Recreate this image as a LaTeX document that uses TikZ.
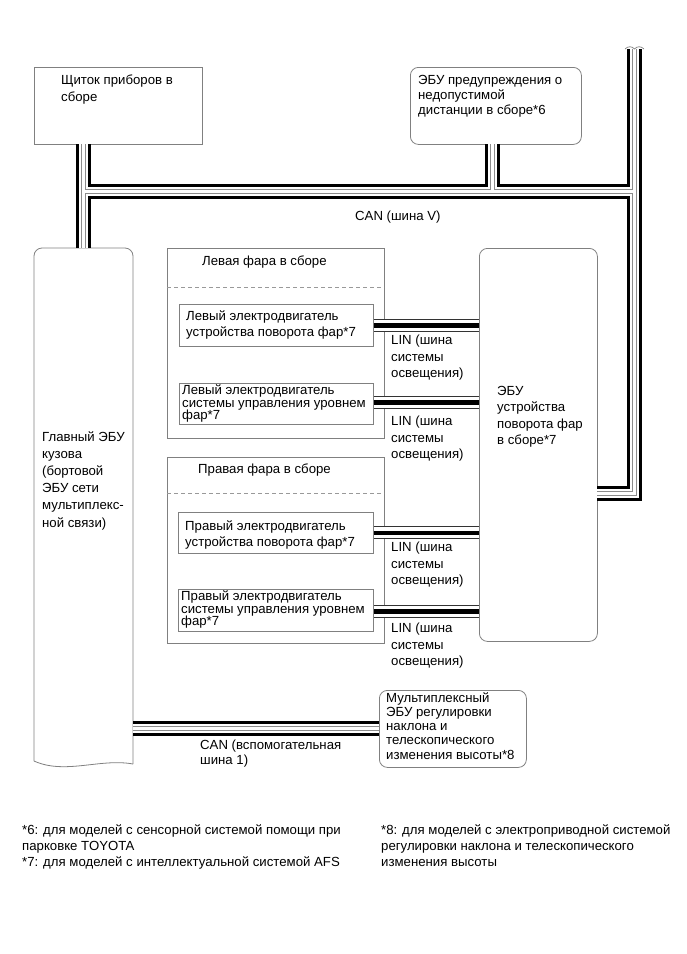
\documentclass[tikz,border=0pt]{standalone}
\usepackage{fontspec}
\setmainfont{Liberation Sans}
\begin{document}
\begin{tikzpicture}[x=1pt,y=-1pt,
  box/.style={draw=black!50, line width=0.8pt, inner sep=0, anchor=north west},
  rbox/.style={box, rounded corners=8pt},
  eculine/.style={draw=black!50, line width=0.8pt},
  dashsep/.style={draw=black!40, line width=0.8pt, dash pattern=on 4pt off 3pt},
  txt/.style={anchor=north west, inner sep=0, align=left, font=\fontsize{13.2}{16.5}\selectfont},
  tight/.style={font=\fontsize{13.2}{12.5}\selectfont},
  mid/.style={font=\fontsize{13.2}{16}\selectfont},
  canwire/.style={line width=15pt, line join=miter,
    postaction={draw=white, line width=9pt},
    postaction={draw=black!45, line width=5pt},
    postaction={draw=white, line width=3pt}},
  linwire/.style={line width=13pt, draw=black!80,
    postaction={draw=white, line width=11pt},
    postaction={draw=black, line width=4.5pt}}
]
\useasboundingbox (0,0) rectangle (687,954);

% boxes
\node[box, minimum width=168pt, minimum height=77pt] (shch) at (34,67) {};
\node[rbox, minimum width=171pt, minimum height=77pt] (warn) at (410,67) {};
\node[box, minimum width=217pt, minimum height=190pt] (lhl) at (167,248) {};
\node[box, minimum width=194pt, minimum height=42pt] (m1) at (179,304) {};
\node[box, minimum width=194pt, minimum height=41pt] (m2) at (179,383) {};
\node[box, minimum width=217pt, minimum height=186pt] (rhl) at (167,457) {};
\node[box, minimum width=195pt, minimum height=41pt] (m3) at (178,512) {};
\node[box, minimum width=195pt, minimum height=42pt] (m4) at (178,589) {};
\node[rbox, minimum width=118pt, minimum height=393pt] (afs) at (479,248) {};
\node[rbox, minimum width=147pt, minimum height=77pt] (mplx) at (379,690) {};

% main body ECU
\draw[eculine, rounded corners=8pt] (34,761) -- (34,248) -- (133,248) -- (133,764);
\draw[eculine] (34,761) .. controls (65,775) and (100,758) .. (133,764);
\coordinate (mainT) at (83.5,248);
\coordinate (mainR) at (133,728);

% dashed separators
\draw[dashsep] (167,287) -- (384,287);
\draw[dashsep] (167,493) -- (384,493);

% bus coordinates
\coordinate (lbT) at (83.5,144);
\coordinate (hL) at (83.5,191.5);
\coordinate (hR) at (634.5,191.5);
\coordinate (brT) at (492,144);
\coordinate (brB) at (492,191.5);
\coordinate (rT) at (634.5,49);
\coordinate (rC) at (634.5,493);
\coordinate (rE) at (597,493);
\coordinate (mplxL) at (379,728);

\draw[canwire] (lbT) -- (mainT) (hL) -- (hR) (brT) -- (brB) (rT) -- (rC) -- (rE) (mainR) -- (mplxL);
\draw[black!50, line width=0.7pt] (625,49) .. controls (628,46) and (632,46) .. (634.5,49) .. controls (637,46) and (641,46) .. (644,49);

\draw[linwire] (m1.east) -- (m1.east -| afs.west);
\draw[linwire] ([yshift=1.5pt]m2.east) -- ([yshift=1.5pt]m2.east -| afs.west);
\draw[linwire] (m3.east) -- (m3.east -| afs.west);
\draw[linwire] ([yshift=-1pt]m4.east) -- ([yshift=-1pt]m4.east -| afs.west);

% texts
\node[txt] (tshch) at (61,75) {Щиток приборов в\\сборе};
\node[txt, font=\fontsize{13.2}{15}\selectfont] (twarn) at (418,75) {ЭБУ предупреждения о\\недопустимой\\дистанции в сборе*6};
\node[txt] (tcanv) at (355,211) {CAN (шина V)};
\node[txt] (tlhl) at (202,256) {Левая фара в сборе};
\node[txt, mid] (tm1) at (186,310) {Левый электродвигатель\\устройства поворота фар*7};
\node[txt] (tlin1) at (391,335) {LIN (шина\\системы\\освещения)};
\node[txt, tight] (tm2) at (182,384.7) {Левый электродвигатель\\системы управления уровнем\\фар*7};
\node[txt] (tlin2) at (391,416) {LIN (шина\\системы\\освещения)};
\node[txt] (trhl) at (198,464) {Правая фара в сборе};
\node[txt, mid] (tm3) at (185,520) {Правый электродвигатель\\устройства поворота фар*7};
\node[txt] (tlin3) at (391,542) {LIN (шина\\системы\\освещения)};
\node[txt, tight] (tm4) at (181,590.7) {Правый электродвигатель\\системы управления уровнем\\фар*7};
\node[txt] (tlin4) at (391,623) {LIN (шина\\системы\\освещения)};
\node[txt] (tafs) at (497,386) {ЭБУ\\устройства\\поворота фар\\в сборе*7};
\node[txt, font=\fontsize{13.2}{17.2}\selectfont] (tmain) at (42,431) {Главный ЭБУ\\кузова\\(бортовой\\ЭБУ сети\\мультиплекс-\\ной связи)};
\node[txt, font=\fontsize{13.2}{14.3}\selectfont] (tmplx) at (386,692) {Мультиплексный\\ЭБУ регулировки\\наклона и\\телескопического\\изменения высоты*8};
\node[txt, font=\fontsize{13.2}{15}\selectfont] (tcans) at (200,740) {CAN (вспомогательная\\шина 1)};
\node[txt, font=\fontsize{13.2}{16}\selectfont] (fn1) at (22,824) {*6: для моделей с сенсорной системой помощи при\\парковке TOYOTA\\*7: для моделей с интеллектуальной системой AFS};
\node[txt, font=\fontsize{13.2}{16}\selectfont] (fn2) at (381,824) {*8: для моделей с электроприводной системой\\регулировки наклона и телескопического\\изменения высоты};
\end{tikzpicture}
\end{document}
